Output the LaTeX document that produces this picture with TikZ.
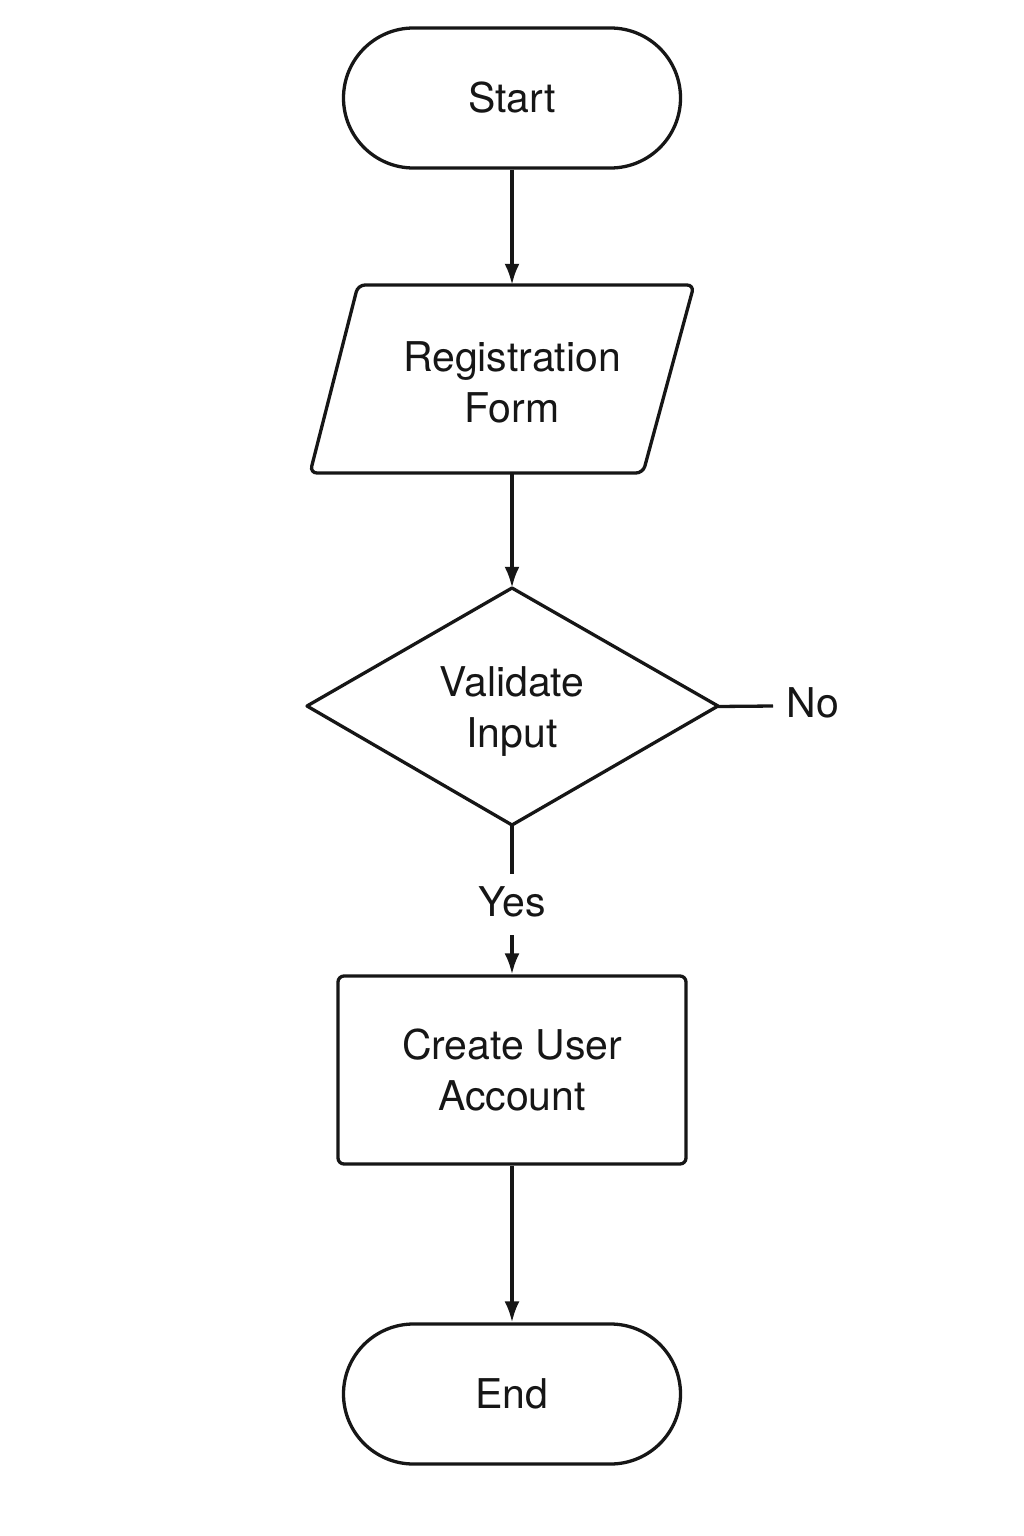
\documentclass[tikz,border=0pt]{standalone}
\usepackage{fontspec}
\setmainfont{TeX Gyre Heros}
\usetikzlibrary{arrows.meta}
\definecolor{ink}{HTML}{161616}
\begin{document}
\begin{tikzpicture}[x=1pt,y=-1pt,
  every node/.style={font=\fontsize{41}{51}\selectfont, text=ink, align=center},
  lw/.style={line width=3.3pt, draw=ink},
  term/.style={lw, rectangle, rounded corners=70pt, minimum width=337pt, minimum height=140pt, inner sep=0pt},
  proc/.style={lw, rectangle, rounded corners=6pt, minimum width=348pt, minimum height=188pt, inner sep=0pt},
  ghost/.style={rectangle, inner sep=0pt},
  conn/.style={lw, -{Latex[length=21pt,width=15pt]}},
  plain/.style={lw}]
\useasboundingbox (0,0) rectangle (1024,1536);
\fill[white] (0,0) rectangle (1024,1536);

\node[term] (start) at (512,98) {Start};

% parallelogram
\draw[lw, rounded corners=7pt] (358,285) -- (694,285) -- (643,473) -- (310,473) -- cycle;
\node[ghost, minimum width=330pt, minimum height=188pt] (form) at (502,379) {};
\node at (512,382) {Registration\\Form};

% diamond
\draw[lw, line join=round] (512,588) -- (718,706) -- (512,825) -- (307,706) -- cycle;
\node[ghost, minimum width=411pt, minimum height=237pt] (valid) at (512,706.5) {};
\node at (512,712) {Validate\\Input};

\node[proc] (create) at (512,1070) {Create User\\Account};
\node[term] (end) at (512,1394) {End};

\node (no) at (813,703) {No};
\coordinate (noend) at (773,706);
\node (yes) at (512,902) {Yes};

\draw[conn] (start.south) -- (start.south |- form.north);
\draw[conn] (form.south -| start.south) -- (valid.north);
\draw[plain] (valid.east) -- (noend);
\draw[plain] (valid.south) -- ++(0,49);
\draw[conn] (512,935) -- (create.north);
\draw[conn] (create.south) -- (end.north);
\end{tikzpicture}
\end{document}
